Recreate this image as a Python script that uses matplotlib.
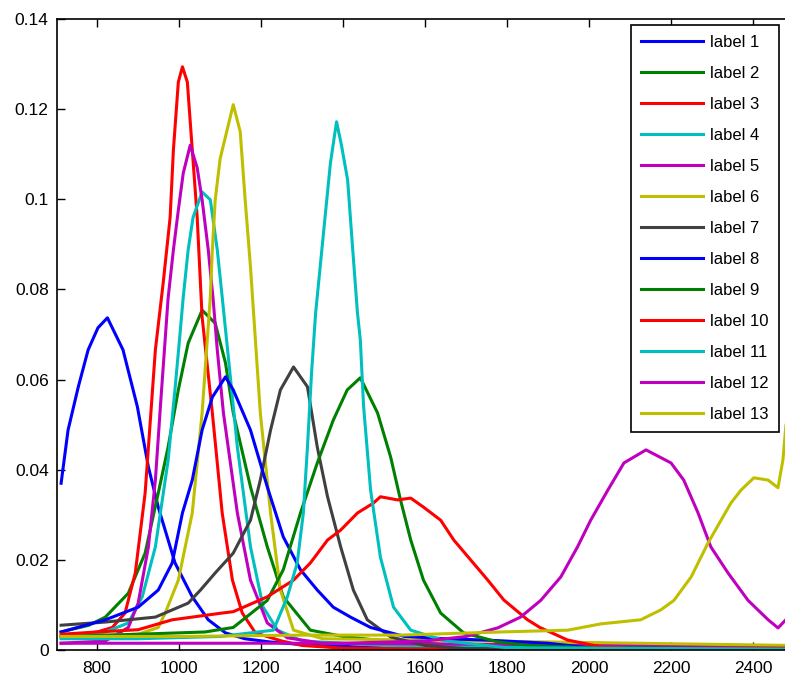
import matplotlib
matplotlib.use('Agg')
import matplotlib.pyplot as plt
from matplotlib.ticker import FuncFormatter

plt.rcParams['font.family'] = ['Liberation Sans', 'DejaVu Sans']

# curves (x, y pairs)
x1 = [712, 729, 754, 778, 802, 825, 863, 898, 925, 949, 990, 1032, 1071, 1113, 1160, 1220, 1300, 1400, 1500, 1600, 1800, 2000, 2500]
y1 = [0.037, 0.0488, 0.0584, 0.0666, 0.0715, 0.0737, 0.0666, 0.054, 0.0406, 0.0317, 0.0193, 0.0118, 0.0067, 0.0038,
      0.0025, 0.0018, 0.0012, 0.0008, 0.0005, 0.0003, 0.0002, 0.0001, 0.0001]

x2 = [712, 780, 820, 876, 917, 949, 973, 998, 1022, 1056, 1088, 1113, 1132, 1174, 1215, 1254, 1320, 1400, 1500, 1700, 1900, 2500]
y2 = [0.004, 0.0055, 0.0073, 0.0126, 0.0215, 0.0348, 0.045, 0.0577, 0.0681, 0.0754, 0.0725, 0.0637, 0.0526, 0.0362,
      0.0229, 0.0118, 0.0044, 0.003, 0.002, 0.001, 0.0005, 0.0002]

x3 = [712, 800, 837, 868, 893, 917, 942, 961, 978, 986, 998, 1008, 1020, 1032, 1044, 1056, 1081, 1105, 1130, 1154, 1186,
      1250, 1300, 1400, 2500]
y3 = [0.003, 0.004, 0.005, 0.0082, 0.0171, 0.0348, 0.0666, 0.0814, 0.096, 0.111, 0.126, 0.1294, 0.126, 0.111, 0.096,
      0.0739, 0.0526, 0.0304, 0.0155, 0.0082, 0.0038, 0.002, 0.001, 0.0004, 0.0002]

x4 = [712, 820, 876, 910, 942, 973, 990, 1000, 1010, 1022, 1034, 1056, 1076, 1093, 1105, 1120, 1142, 1174, 1205, 1240,
      1300, 1500, 2500]
y4 = [0.003, 0.004, 0.006, 0.0118, 0.0229, 0.042, 0.058, 0.068, 0.0783, 0.0888, 0.096, 0.1016, 0.0999, 0.0888, 0.0783,
      0.065, 0.045, 0.0229, 0.0095, 0.0044, 0.002, 0.001, 0.0003]

x5 = [712, 820, 876, 900, 925, 942, 955, 973, 986, 998, 1010, 1027, 1044, 1056, 1071, 1083, 1093, 1108, 1142, 1174, 1215,
      1264, 1350, 2500]
y5 = [0.0015, 0.002, 0.005, 0.0104, 0.0229, 0.0377, 0.055, 0.078, 0.0888, 0.0976, 0.1058, 0.112, 0.107, 0.0999, 0.0888,
      0.0777, 0.0666, 0.0526, 0.0304, 0.0155, 0.006, 0.0027, 0.0015, 0.0008]

x6 = [712, 900, 949, 966, 998, 1032, 1056, 1076, 1081, 1088, 1100, 1132, 1149, 1161, 1174, 1198, 1223, 1247, 1279, 1350, 2500]
y6 = [0.003, 0.0035, 0.005, 0.0082, 0.0155, 0.0304, 0.0526, 0.0783, 0.0888, 0.0999, 0.109, 0.121, 0.115, 0.0999, 0.085,
      0.0526, 0.0304, 0.0133, 0.0044, 0.0025, 0.001]

x7 = [712, 820, 942, 1022, 1052, 1088, 1132, 1174, 1198, 1223, 1247, 1279, 1313, 1337, 1362, 1394, 1425, 1459, 1516, 1600,
      1700, 2500]
y7 = [0.0055, 0.0062, 0.0073, 0.0104, 0.0133, 0.0171, 0.0215, 0.0288, 0.0377, 0.0488, 0.0577, 0.0628, 0.0584, 0.045,
      0.034, 0.0229, 0.0133, 0.0067, 0.0029, 0.001, 0.0003, 0.0002]

x8 = [712, 820, 900, 949, 983, 1008, 1032, 1056, 1081, 1113, 1132, 1174, 1215, 1254, 1296, 1337, 1376, 1418, 1467, 1550,
      1650, 1750, 1900, 2000, 2500]
y8 = [0.004, 0.0067, 0.0095, 0.0133, 0.0193, 0.0304, 0.0377, 0.0488, 0.0561, 0.0606, 0.0577, 0.0488, 0.0362, 0.0251,
      0.0178, 0.0133, 0.0095, 0.0073, 0.005, 0.003, 0.0025, 0.0022, 0.0015, 0.0005, 0.0002]

x9 = [712, 900, 1063, 1132, 1215, 1254, 1296, 1337, 1376, 1410, 1442, 1484, 1516, 1540, 1565, 1596, 1638, 1694, 1777, 1850,
      2000, 2500]
y9 = [0.003, 0.0035, 0.004, 0.005, 0.011, 0.0178, 0.0304, 0.0415, 0.051, 0.0577, 0.0604, 0.0526, 0.0428, 0.0333, 0.0244,
      0.0155, 0.0082, 0.0038, 0.0018, 0.001, 0.0005, 0.0002]

x10 = [712, 800, 900, 983, 1105, 1132, 1215, 1279, 1320, 1362, 1394, 1435, 1474, 1491, 1533, 1565, 1596, 1638, 1670, 1711,
       1753, 1792, 1850, 1880, 1948, 2029, 2100, 2500]
y10 = [0.0035, 0.004, 0.0045, 0.0067, 0.0082, 0.0085, 0.0118, 0.0155, 0.0193, 0.0244, 0.0266, 0.0304, 0.0326, 0.034,
       0.0333, 0.0337, 0.0317, 0.0288, 0.0244, 0.02, 0.0155, 0.0111, 0.0067, 0.005, 0.0022, 0.0007, 0.0004, 0.0004]

x11 = [712, 900, 1100, 1230, 1264, 1288, 1303, 1313, 1323, 1333, 1345, 1357, 1369, 1384, 1396, 1411, 1423, 1435, 1442, 1450,
       1467, 1491, 1523, 1565, 1650, 1800, 2500]
y11 = [0.0025, 0.0025, 0.003, 0.0044, 0.0118, 0.0193, 0.0304, 0.045, 0.0615, 0.0748, 0.0859, 0.097, 0.108, 0.1172, 0.112,
       0.1043, 0.0894, 0.0748, 0.0688, 0.054, 0.0355, 0.0206, 0.0095, 0.0044, 0.002, 0.0005, 0.0002]

x12 = [712, 1000, 1400, 1600, 1700, 1777, 1833, 1882, 1931, 1972, 2004, 2046, 2085, 2139, 2200, 2231, 2266, 2297, 2339, 2388,
       2437, 2461, 2480, 2500]
y12 = [0.0015, 0.0015, 0.0015, 0.002, 0.003, 0.0049, 0.0073, 0.011, 0.0162, 0.0229, 0.0288, 0.0355, 0.0415, 0.0444, 0.0415,
       0.0377, 0.0304, 0.0229, 0.0171, 0.011, 0.0067, 0.0049, 0.0067, 0.009]

x13 = [712, 1000, 1300, 1540, 1784, 1948, 2029, 2126, 2175, 2207, 2249, 2290, 2322, 2346, 2371, 2402, 2437, 2461, 2473,
       2480, 2500]
y13 = [0.003, 0.003, 0.0033, 0.0033, 0.004, 0.0044, 0.0058, 0.0067, 0.0089, 0.011, 0.0162, 0.0237, 0.0288, 0.0326, 0.0355,
       0.0382, 0.0377, 0.036, 0.0422, 0.0495, 0.065]

xs = [x1, x2, x3, x4, x5, x6, x7, x8, x9, x10, x11, x12, x13]
ys = [y1, y2, y3, y4, y5, y6, y7, y8, y9, y10, y11, y12, y13]
labels = ['label %d' % (i + 1) for i in range(13)]

# old matlab line colour order
colors = [(0, 0, 1), (0, 0.5, 0), (1, 0, 0), (0, 0.75, 0.75), (0.75, 0, 0.75), (0.75, 0.75, 0), (0.25, 0.25, 0.25)]

fig = plt.figure(figsize=(7.85, 6.84), dpi=100)
ax = fig.add_axes([57 / 785, 34 / 684, 737 / 785, 631 / 684])

for i in range(13):
    ax.plot(xs[i], ys[i], color=colors[i % 7], lw=2.2, label=labels[i])

ax.set_xlim(702, 2500)
ax.set_ylim(0, 0.14)
ax.set_xticks(range(800, 2401, 200))
ax.set_yticks([0, 0.02, 0.04, 0.06, 0.08, 0.1, 0.12, 0.14])
ax.yaxis.set_major_formatter(FuncFormatter(lambda v, p: '%g' % round(v, 2)))
ax.tick_params(direction='in', length=6, width=1, labelsize=12.5, top=True, right=True)
ax.tick_params(axis='x', pad=8)
ax.tick_params(axis='y', pad=6)
for s in ax.spines.values():
    s.set_linewidth(1.2)

leg = ax.legend(loc='upper right', bbox_to_anchor=(779 / 785, 659 / 684), bbox_transform=fig.transFigure,
                fontsize=12, fancybox=False, framealpha=1, edgecolor='black', borderaxespad=0,
                handlelength=3.7, handletextpad=0.45, labelspacing=0.96, borderpad=0.6)
leg.get_frame().set_linewidth(1.2)

fig.savefig('out.png', dpi=100)
